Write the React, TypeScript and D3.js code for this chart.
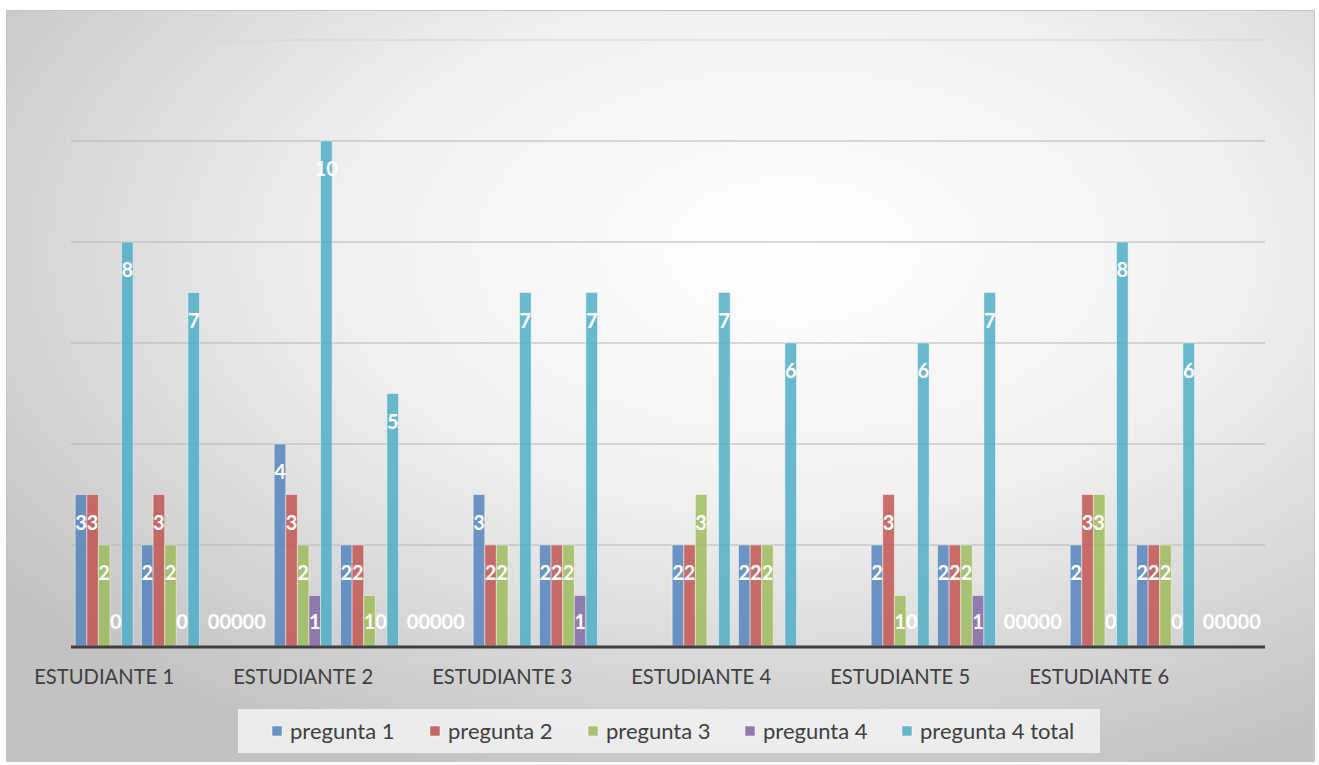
import React from "react";
import * as d3 from "d3";

const categoryLabels = [
  "ESTUDIANTE 1", "", "",
  "ESTUDIANTE 2", "", "",
  "ESTUDIANTE 3", "", "",
  "ESTUDIANTE 4", "", "",
  "ESTUDIANTE 5", "", "",
  "ESTUDIANTE 6", "", "",
];
const seriesNames = ["pregunta 1", "pregunta 2", "pregunta 3", "pregunta 4", "pregunta 4 total"];
const pregunta1 = [3, 2, 0, 4, 2, 0, 3, 2, null, 2, 2, null, 2, 2, 0, 2, 2, 0];
const pregunta2 = [3, 3, 0, 3, 2, 0, 2, 2, null, 2, 2, null, 3, 2, 0, 3, 2, 0];
const pregunta3 = [2, 2, 0, 2, 1, 0, 2, 2, null, 3, 2, null, 1, 2, 0, 3, 2, 0];
const pregunta4 = [0, 0, 0, 1, 0, 0, null, 1, null, null, null, null, 0, 1, 0, 0, 0, 0];
const pregunta4Total = [8, 7, 0, 10, 5, 0, 7, 7, null, 7, 6, null, 6, 7, 0, 8, 6, 0];
const yTicks = [0, 2, 4, 6, 8, 10, 12];
const colors = ["#4f81bd", "#c0504d", "#9bbb59", "#8064a2", "#4bacc6"];

const seriesValues = [pregunta1, pregunta2, pregunta3, pregunta4, pregunta4Total];

export default function App() {
  const W = 1319, H = 765;
  const plotL = 71, plotR = 1265, plotT = 40, plotB = 646;
  const idx = d3.range(categoryLabels.length);
  const x0 = d3.scaleBand<number>().domain(idx).range([plotL, plotR]).padding(0);
  const x1 = d3.scaleBand<number>().domain(d3.range(5)).range([0, x0.bandwidth()]).paddingInner(0).paddingOuter(0.36);
  const y = d3.scaleLinear().domain([0, 12]).range([plotB, plotT]);
  const font = "Lato, 'Open Sans', sans-serif";

  const legendX = [272, 430, 588, 745, 902];

  return (
    <svg width={W} height={H} style={{ position: "absolute", left: 0, top: 0 }}>
      <defs>
        <radialGradient id="bg" cx="0.6" cy="0.32" r="0.75" gradientUnits="objectBoundingBox">
          <stop offset="0" stopColor="#ffffff" />
          <stop offset="0.45" stopColor="#f1f1f1" />
          <stop offset="1" stopColor="#c2c2c2" />
        </radialGradient>
      </defs>
      <rect x={0} y={0} width={W} height={H} fill="#ffffff" />
      <rect x={6.5} y={10.5} width={1308} height={751} fill="url(#bg)" stroke="#c4c4c4" strokeWidth={1} />
      {yTicks.filter((t) => t > 0).map((t) => (
        <line key={t} x1={plotL} x2={plotR} y1={y(t)} y2={y(t)} stroke={t === 12 ? "#d6d6d6" : "#b5b5b5"} strokeWidth={1} />
      ))}
      {idx.map((ci) => (
        <g key={ci} transform={`translate(${x0(ci)},0)`}>
          {seriesValues.map((vals, si) => {
            const v = vals[ci];
            if (v === null || v === undefined) return null;
            const bx = x1(si)!;
            const bw = x1.bandwidth();
            return (
              <rect key={si} x={bx} y={y(v)} width={bw} height={plotB - y(v)} fill={colors[si]} fillOpacity={0.82} stroke="#ffffff" strokeOpacity={0.45} strokeWidth={1} />
            );
          })}
        </g>
      ))}
      <line x1={plotL} x2={plotR} y1={plotB + 1} y2={plotB + 1} stroke="#3f3f3f" strokeWidth={3} />
      {idx.map((ci) => (
        <g key={"l" + ci} transform={`translate(${x0(ci)},0)`}>
          {seriesValues.map((vals, si) => {
            const v = vals[ci];
            if (v === null || v === undefined) return null;
            const cx = x1(si)! + x1.bandwidth() / 2;
            const cy = Math.min(y(v) + 28, plotB - 24);
            return (
              <text key={si} x={cx} y={cy} dy="0.35em" textAnchor="middle" fill="#ffffff" fontFamily={font} fontWeight={700} fontSize={20}>
                {v}
              </text>
            );
          })}
        </g>
      ))}
      {idx.map((ci) =>
        categoryLabels[ci] ? (
          <text key={"c" + ci} x={x0(ci)! + x0.bandwidth() / 2} y={677} dy="0.35em" textAnchor="middle" fill="#404040" fontFamily={font} fontSize={20.2}>
            {categoryLabels[ci]}
          </text>
        ) : null
      )}
      <rect x={238} y={709} width={862} height={44} fill="#f2f2f2" fillOpacity={0.85} />
      {seriesNames.map((n, i) => (
        <g key={n}>
          <rect x={legendX[i]} y={726} width={10} height={10} fill={colors[i]} fillOpacity={0.85} stroke="#ffffff" strokeOpacity={0.5} />
          <text x={legendX[i] + 18} y={731} dy="0.35em" fill="#404040" fontFamily={font} fontSize={22}>
            {n}
          </text>
        </g>
      ))}
    </svg>
  );
}
